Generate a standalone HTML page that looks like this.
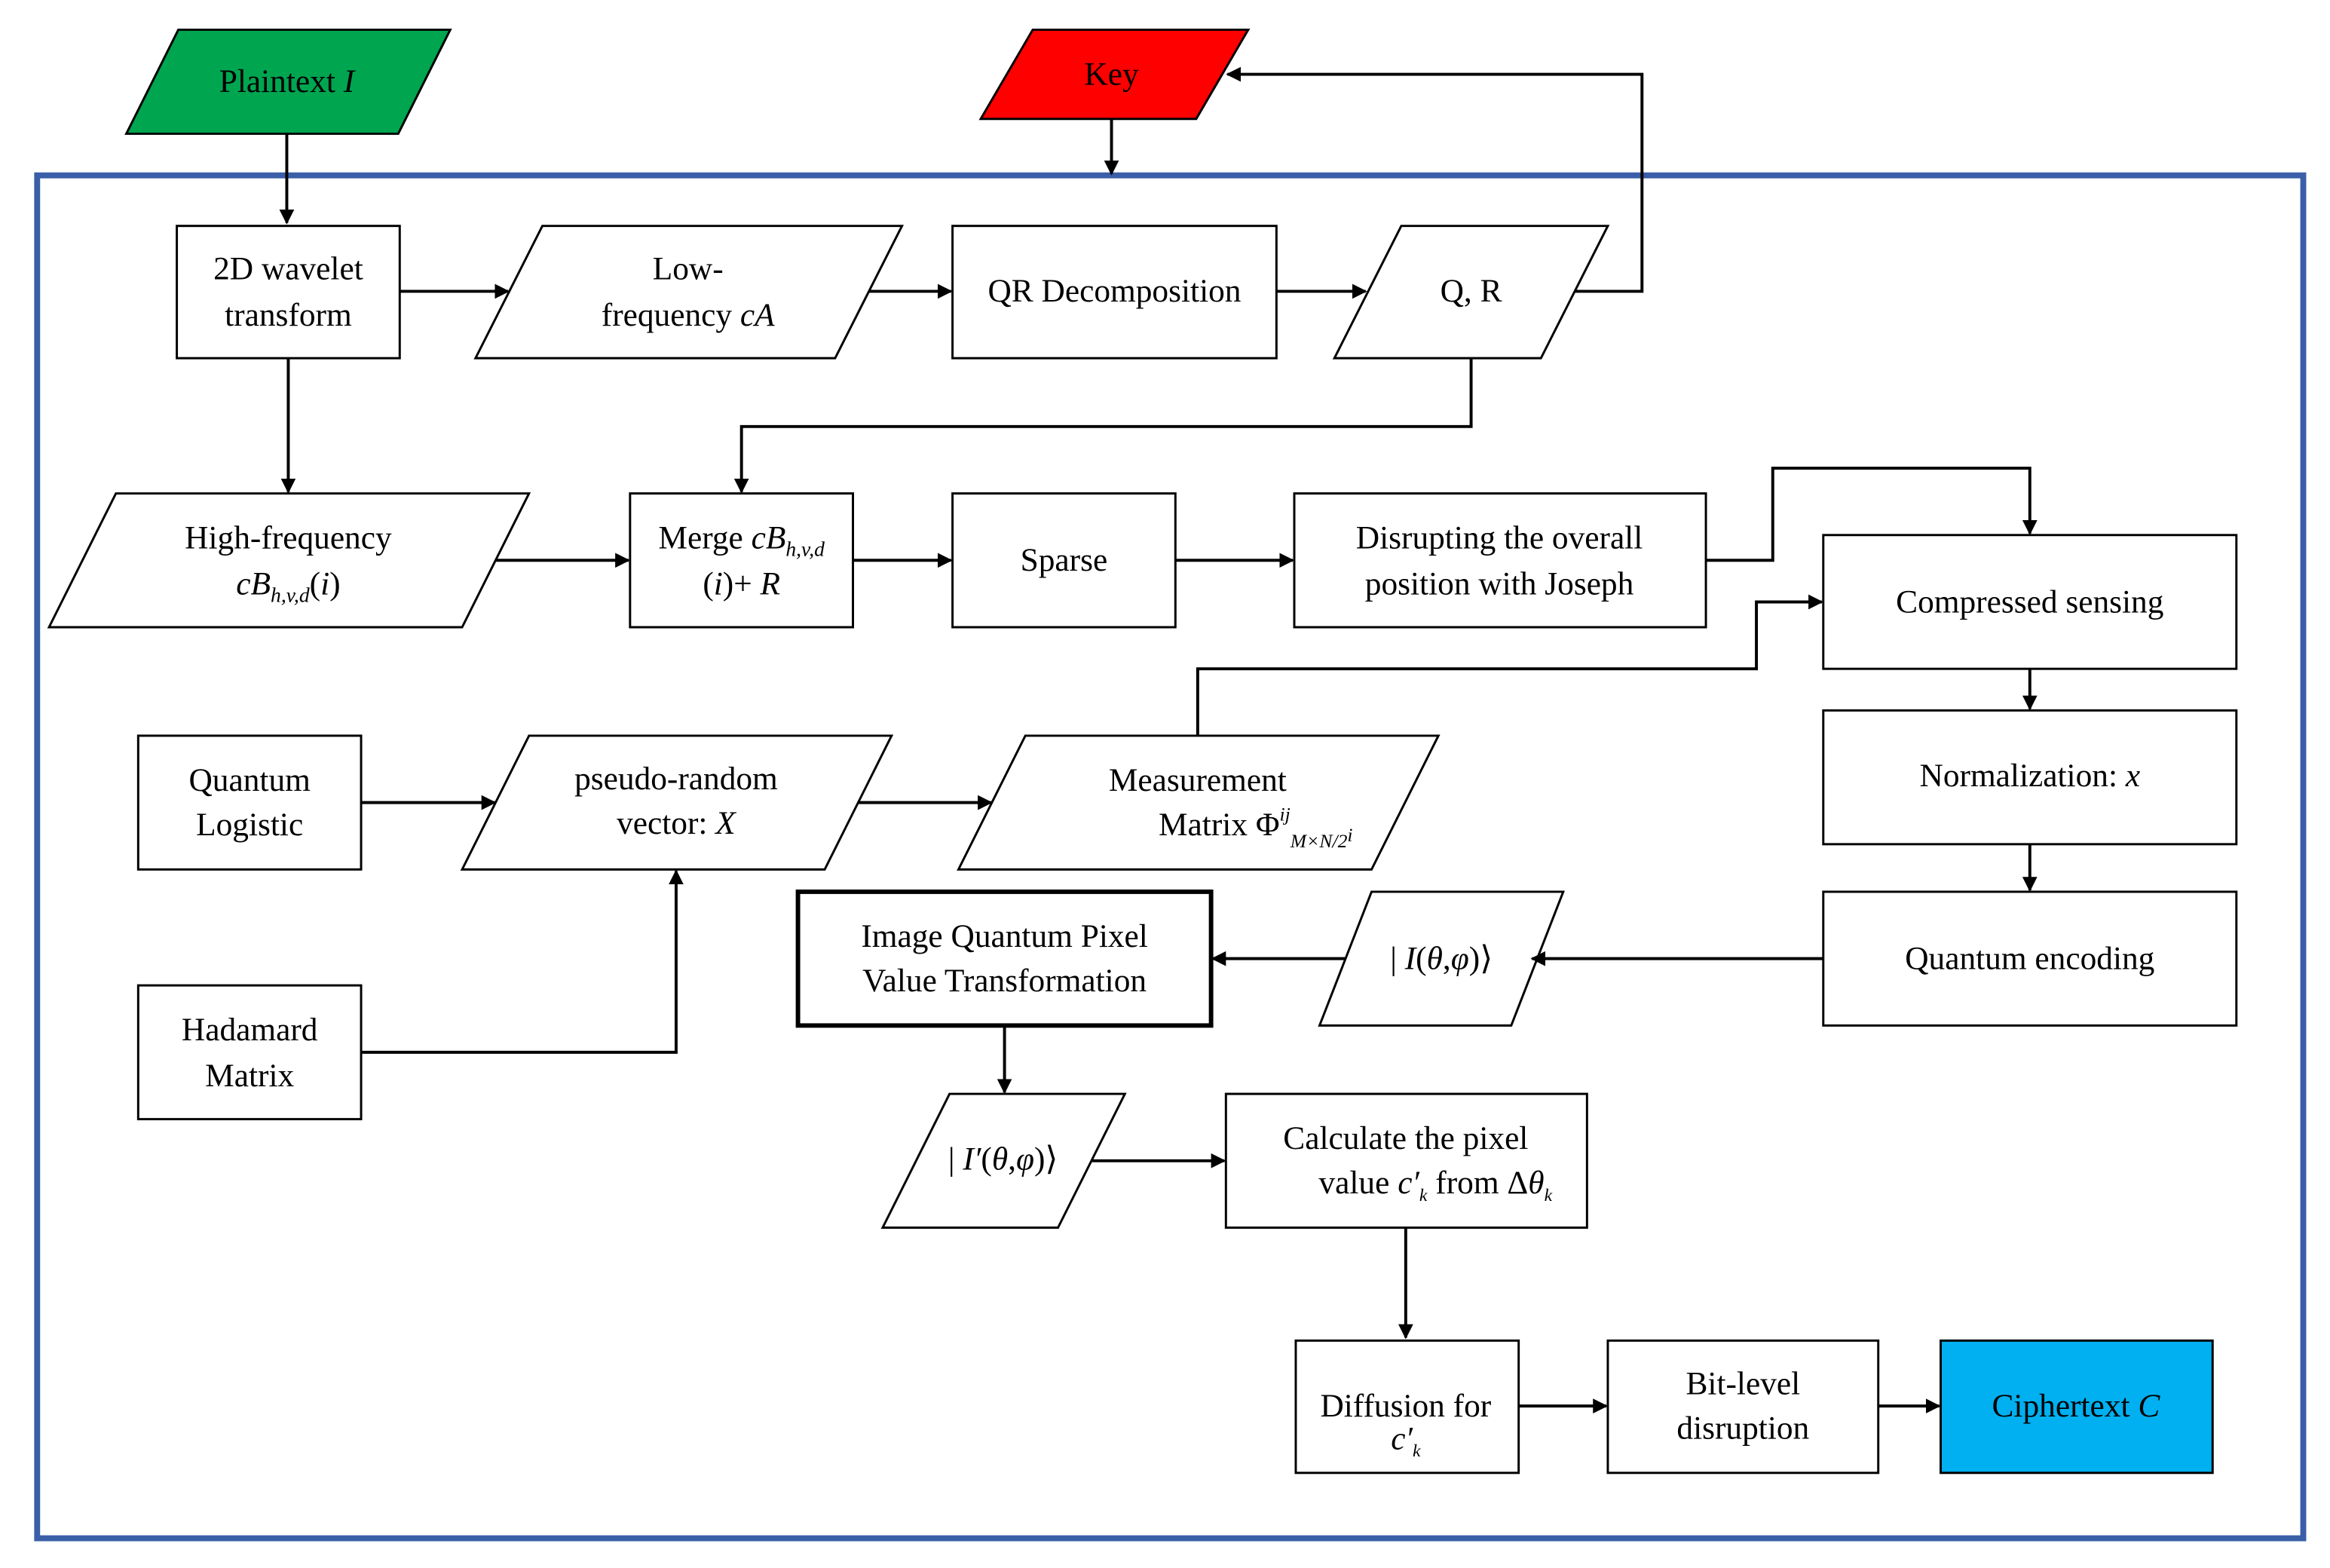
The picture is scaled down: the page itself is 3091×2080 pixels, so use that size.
<!DOCTYPE html>
<html><head><meta charset="utf-8"><style>
html,body{margin:0;padding:0;background:#fff;}
svg{display:block;}
text{font-family:"Liberation Serif",serif;font-size:22px;fill:#000;}
</style></head><body>
<svg width="3091" height="2080" viewBox="0 0 1568 1055" preserveAspectRatio="none" xmlns="http://www.w3.org/2000/svg">
<defs>
<marker id="a" markerWidth="10" markerHeight="10" refX="9" refY="5" orient="auto" markerUnits="userSpaceOnUse"><path d="M0,0 L10,5 L0,10 z" fill="#000"/></marker>
</defs>
<rect x="0" y="0" width="1568" height="1055" fill="#fff"/>
<rect x="25" y="118" width="1525" height="917" fill="none" stroke="#3a5fa8" stroke-width="4"/>

<g stroke="#000" stroke-width="1.5" fill="#fff">
<polygon points="85,90 120,20 303,20 268,90" fill="#00a550"/>
<polygon points="660,80 695,20 840,20 805,80" fill="#ff0000"/>
<rect x="119" y="152" width="150" height="89"/>
<polygon points="320,241 365,152 607,152 562,241"/>
<rect x="641" y="152" width="218" height="89"/>
<polygon points="898,241 943,152 1082,152 1037,241"/>
<polygon points="33,422 78,332 356,332 311,422"/>
<rect x="424" y="332" width="150" height="90"/>
<rect x="641" y="332" width="150" height="90"/>
<rect x="871" y="332" width="277" height="90"/>
<rect x="1227" y="360" width="278" height="90"/>
<rect x="1227" y="478" width="278" height="90"/>
<rect x="1227" y="600" width="278" height="90"/>
<rect x="93" y="495" width="150" height="90"/>
<polygon points="311,585 356,495 600,495 555,585"/>
<polygon points="645,585 690,495 968,495 923,585"/>
<rect x="93" y="663" width="150" height="90"/>
<rect x="537" y="600" width="278" height="90" stroke-width="3"/>
<polygon points="888,690 923,600 1052,600 1017,690"/>
<polygon points="594,826 639,736 757,736 712,826"/>
<rect x="825" y="736" width="243" height="90"/>
<rect x="872" y="902" width="150" height="89"/>
<rect x="1082" y="902" width="182" height="89"/>
<rect x="1306" y="902" width="183" height="89" fill="#00b0f0"/>
</g>

<g stroke="#000" stroke-width="2" fill="none" marker-end="url(#a)">
<path d="M193,90 V150"/>
<path d="M748,80 V117"/>
<path d="M1060,196 H1105 V50 H826"/>
<path d="M269,196 H342"/>
<path d="M585,196 H640"/>
<path d="M859,196 H919"/>
<path d="M990,241 V287 H499 V331"/>
<path d="M194,241 V331"/>
<path d="M334,377 H423"/>
<path d="M574,377 H640"/>
<path d="M791,377 H870"/>
<path d="M1148,377 H1193 V315 H1366 V359"/>
<path d="M806,495 V450 H1182 V405 H1226"/>
<path d="M1366,450 V477"/>
<path d="M1366,568 V599"/>
<path d="M243,540 H333"/>
<path d="M578,540 H667"/>
<path d="M243,708 H455 V586"/>
<path d="M1227,645 H1031"/>
<path d="M905,645 H816"/>
<path d="M676,690 V735"/>
<path d="M735,781 H824"/>
<path d="M946,826 V900"/>
<path d="M1022,946 H1081"/>
<path d="M1264,946 H1305"/>
</g>

<g text-anchor="middle">
<text x="193" y="62">Plaintext <tspan font-style="italic">I</tspan></text>
<text x="748" y="57">Key</text>
<text x="194" y="188">2D wavelet</text>
<text x="194" y="219">transform</text>
<text x="463" y="188">Low-</text>
<text x="463" y="219">frequency <tspan font-style="italic">cA</tspan></text>
<text x="750" y="203">QR Decomposition</text>
<text x="990" y="203">Q, R</text>
<text x="194" y="369">High-frequency</text>
<text x="194" y="400" font-style="italic">cB<tspan font-size="14" dy="5">h,v,d</tspan><tspan dy="-5" font-style="normal">(</tspan>i<tspan font-style="normal">)</tspan></text>
<text x="499" y="369">Merge <tspan font-style="italic">cB</tspan><tspan font-size="14" font-style="italic" dy="5">h,v,d</tspan></text>
<text x="499" y="400">(<tspan font-style="italic">i</tspan>)+ <tspan font-style="italic">R</tspan></text>
<text x="716" y="384">Sparse</text>
<text x="1009" y="369">Disrupting the overall</text>
<text x="1009" y="400">position with Joseph</text>
<text x="1366" y="412">Compressed sensing</text>
<text x="1366" y="529">Normalization: <tspan font-style="italic">x</tspan></text>
<text x="1366" y="652">Quantum encoding</text>
<text x="168" y="532">Quantum</text>
<text x="168" y="562">Logistic</text>
<text x="455" y="531" font-size="20">pseudo-random</text>
<text x="455" y="561">vector: <tspan font-style="italic">X</tspan></text>
<text x="806" y="532">Measurement</text>
<text x="845" y="562">Matrix  Φ<tspan font-size="13" font-style="italic" dy="-10">ij</tspan><tspan font-size="13" font-style="italic" dy="18">M×N/2<tspan dy="-4">i</tspan></tspan></text>
<text x="168" y="700">Hadamard</text>
<text x="168" y="731">Matrix</text>
<text x="676" y="637">Image Quantum Pixel</text>
<text x="676" y="667">Value Transformation</text>
<text x="970" y="652">| <tspan font-style="italic">I</tspan>(<tspan font-style="italic">θ</tspan>,<tspan font-style="italic">φ</tspan>)⟩</text>
<text x="675" y="787">| <tspan font-style="italic">I′</tspan>(<tspan font-style="italic">θ</tspan>,<tspan font-style="italic">φ</tspan>)⟩</text>
<text x="946" y="773">Calculate the pixel</text>
<text x="966" y="803">value <tspan font-style="italic">c′</tspan><tspan font-size="12" font-style="italic" dy="5">k</tspan><tspan dy="-5"> from Δ</tspan><tspan font-style="italic">θ</tspan><tspan font-size="12" font-style="italic" dy="5">k</tspan></text>
<text x="946" y="953">Diffusion for</text>
<text x="946" y="975" font-style="italic">c′<tspan font-size="12" dy="5">k</tspan></text>
<text x="1173" y="938">Bit-level</text>
<text x="1173" y="968">disruption</text>
<text x="1397" y="953">Ciphertext <tspan font-style="italic">C</tspan></text>
</g>
</svg>
</body></html>
